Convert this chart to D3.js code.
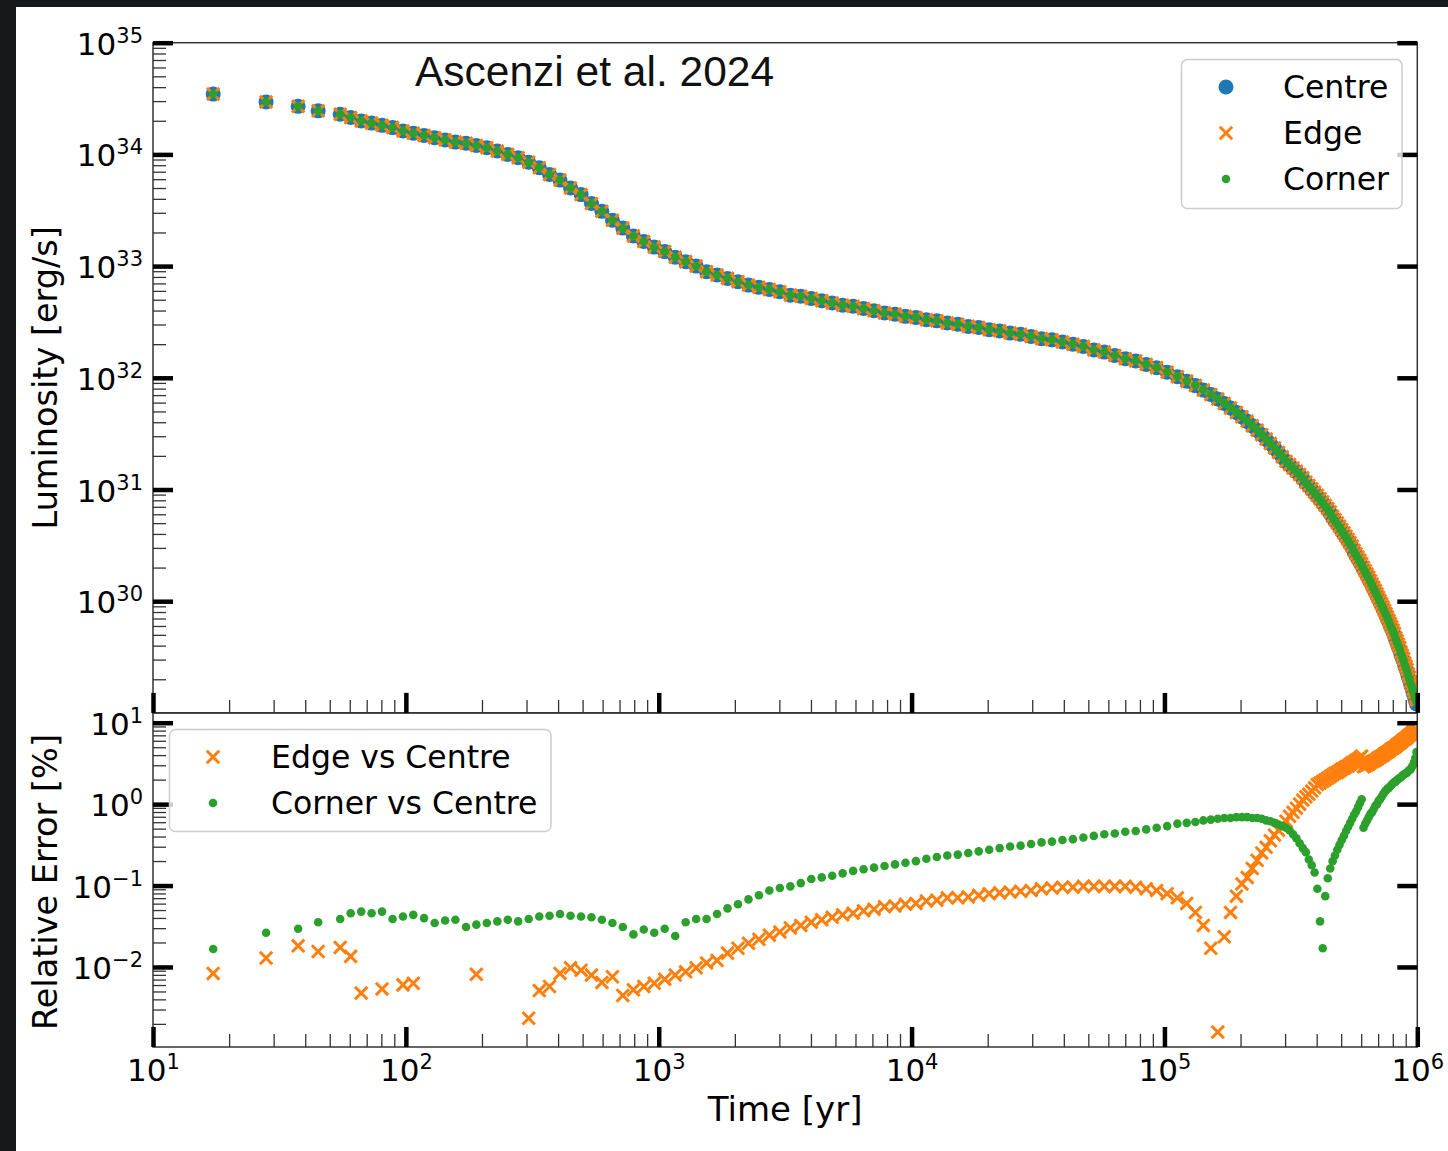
<!DOCTYPE html>
<html>
<head>
<meta charset="utf-8">
<script src="https://cdn.jsdelivr.net/npm/d3@7"></script>
<style>
  body { margin: 0; background: #16181c; }
  svg { display: block; }
</style>
</head>
<body>
<svg id="chart"></svg>
<script>
// values (log10 for luminosity and relative error)
const timeYr = [
  17.3, 28, 37.5, 45,
  55, 60.5, 66.6, 73.2, 80.5, 88.6, 97.4, 107, 118, 130,
  143, 157, 173, 190, 209, 230, 253, 278, 306, 337,
  370, 407, 448, 493, 542, 596, 656, 721, 794, 873,
  960, 1056, 1162, 1278, 1406, 1546, 1701, 1871, 2058, 2264,
  2490, 2739, 3013, 3315, 3646, 4011, 4412, 4853, 5338, 5872,
  6459, 7105, 7816, 8597, 9457, 10403, 11443, 12587, 13846, 15230,
  16753, 18429, 20272, 22299, 24529, 26982, 29680, 32648, 35913, 39504,
  43454, 47800, 52580, 57838, 63622, 69984, 76982, 84681, 93149,
  102500, 112500, 122500, 132500, 142500, 152500, 162500, 172500, 182500, 192500,
  202500, 212500, 222500, 232500, 242500, 252500, 262500, 272500, 282500, 292500,
  302500, 312500, 322500, 332500, 342500, 352500, 362500, 372500, 382500, 392500,
  402500, 412500, 422500, 432500, 442500, 452500, 462500, 472500, 482500, 492500,
  502500, 512500, 522500, 532500, 542500, 552500, 562500, 572500, 582500, 592500,
  602500, 612500, 622500, 632500, 642500, 652500, 662500, 672500, 682500, 692500,
  702500, 712500, 722500, 732500, 742500, 752500, 762500, 772500, 782500, 792500,
  802500, 812500, 822500, 832500, 842500, 852500, 862500, 872500, 882500, 892500,
  902500, 912500, 922500, 932500, 942500, 952500, 962500, 972500, 982500, 992500
];

// log10 of Centre luminosity [erg/s]
const centreLogLum = [
  34.54, 34.47, 34.43, 34.39,
  34.36, 34.33, 34.30, 34.28, 34.26, 34.24, 34.21, 34.19, 34.17, 34.15,
  34.13, 34.11, 34.10, 34.08, 34.06, 34.03, 34.00, 33.97, 33.93, 33.88,
  33.82, 33.77, 33.70, 33.64, 33.56, 33.49, 33.41, 33.34, 33.27, 33.22,
  33.17, 33.13, 33.08, 33.04, 33.00, 32.95, 32.92, 32.89, 32.86, 32.83,
  32.81, 32.79, 32.77, 32.74, 32.73, 32.71, 32.69, 32.67, 32.65, 32.64,
  32.62, 32.60, 32.58, 32.57, 32.55, 32.54, 32.52, 32.51, 32.49, 32.48,
  32.46, 32.45, 32.43, 32.42, 32.40, 32.39, 32.37, 32.35, 32.34, 32.32,
  32.30, 32.28, 32.25, 32.23, 32.20, 32.17, 32.15, 32.12, 32.09,
  32.05, 32.01, 31.97, 31.93, 31.89, 31.85, 31.81, 31.77, 31.73, 31.69,
  31.65, 31.61, 31.57, 31.53, 31.49, 31.45, 31.41, 31.37, 31.33, 31.29,
  31.25, 31.22, 31.19, 31.16, 31.13, 31.10, 31.06, 31.03, 31.00, 30.97,
  30.94, 30.91, 30.88, 30.85, 30.82, 30.79, 30.75, 30.72, 30.69, 30.66,
  30.63, 30.60, 30.57, 30.54, 30.51, 30.48, 30.44, 30.41, 30.38, 30.35,
  30.32, 30.29, 30.26, 30.23, 30.20, 30.17, 30.14, 30.11, 30.08, 30.05,
  30.02, 29.99, 29.96, 29.93, 29.90, 29.87, 29.84, 29.81, 29.78, 29.75,
  29.72, 29.69, 29.65, 29.62, 29.59, 29.56, 29.52, 29.49, 29.46, 29.42,
  29.39, 29.36, 29.32, 29.29, 29.25, 29.22, 29.18, 29.15, 29.11, 29.08
];

// log10 of Edge vs Centre relative error [%] (null = below the axis)
const edgeLogErr = [
  -2.08, -1.89, -1.74, -1.81,
  -1.76, -1.87, -2.32, null, -2.27, null, -2.22, -2.20, null, null,
  null, null, null, -2.09, null, null, null, null, -2.63, -2.29,
  -2.24, -2.08, -2.01, -2.04, -2.10, -2.19, -2.12, -2.35, -2.28, -2.24,
  -2.20, -2.15, -2.10, -2.06, -2.01, -1.95, -1.92, -1.83, -1.77, -1.71,
  -1.66, -1.61, -1.57, -1.52, -1.49, -1.45, -1.42, -1.39, -1.36, -1.34,
  -1.31, -1.29, -1.26, -1.25, -1.23, -1.22, -1.19, -1.18, -1.15, -1.15,
  -1.14, -1.12, -1.10, -1.09, -1.08, -1.07, -1.06, -1.04, -1.03, -1.02,
  -1.02, -1.01, -1.01, -1.01, -1.01, -1.01, -1.02, -1.04, -1.06,
  -1.10, -1.15, -1.22, -1.33, -1.49, -1.77, -2.80, -1.63, -1.33, -1.13,
  -0.98, -0.90, -0.79, -0.69, -0.60, -0.53, -0.45, -0.38, -0.32, -0.27,
  -0.21, -0.15, -0.10, -0.05, 0.00, 0.05, 0.09, 0.12, 0.16, 0.20,
  0.24, 0.26, 0.28, 0.30, 0.32, 0.34, 0.36, 0.38, 0.39, 0.41,
  0.43, 0.44, 0.46, 0.47, 0.49, 0.51, 0.52, 0.54, 0.55, 0.57,
  0.59, 0.46, 0.47, 0.48, 0.49, 0.51, 0.52, 0.53, 0.54, 0.55,
  0.57, 0.58, 0.59, 0.60, 0.62, 0.63, 0.64, 0.65, 0.67, 0.68,
  0.69, 0.70, 0.71, 0.73, 0.74, 0.75, 0.76, 0.78, 0.79, 0.80,
  0.81, 0.82, 0.84, 0.85, 0.86, 0.87, 0.89, 0.90, 0.91, 0.92
];

// log10 of Corner vs Centre relative error [%]
const cornerLogErr = [
  -1.78, -1.58, -1.53, -1.45,
  -1.41, -1.34, -1.32, -1.34, -1.32, -1.41, -1.38, -1.36, -1.40, -1.46,
  -1.43, -1.42, -1.51, -1.48, -1.46, -1.44, -1.42, -1.44, -1.41, -1.38,
  -1.37, -1.35, -1.37, -1.38, -1.39, -1.42, -1.46, -1.51, -1.60, -1.54,
  -1.58, -1.53, -1.62, -1.45, -1.41, -1.41, -1.35, -1.28, -1.23, -1.17,
  -1.12, -1.06, -1.03, -1.01, -0.97, -0.92, -0.90, -0.88, -0.85, -0.82,
  -0.80, -0.78, -0.76, -0.74, -0.72, -0.70, -0.67, -0.65, -0.63, -0.62,
  -0.60, -0.58, -0.56, -0.54, -0.52, -0.51, -0.49, -0.47, -0.46, -0.44,
  -0.43, -0.41, -0.39, -0.37, -0.36, -0.34, -0.33, -0.31, -0.29,
  -0.27, -0.24, -0.23, -0.22, -0.20, -0.19, -0.18, -0.17, -0.17, -0.16,
  -0.16, -0.16, -0.17, -0.17, -0.18, -0.20, -0.21, -0.23, -0.25, -0.27,
  -0.29, -0.32, -0.37, -0.42, -0.48, -0.54, -0.59, -0.68, -0.75, -0.84,
  -1.04, -1.44, -1.77, -1.13, -0.91, -0.79, -0.70, -0.63, -0.56, -0.50,
  -0.44, -0.39, -0.33, -0.28, -0.23, -0.18, -0.13, -0.09, -0.04, 0.01,
  0.06, -0.29, -0.24, -0.20, -0.16, -0.12, -0.10, -0.06, -0.02, 0.00,
  0.04, 0.06, 0.09, 0.12, 0.15, 0.17, 0.19, 0.20, 0.22, 0.24,
  0.26, 0.27, 0.28, 0.30, 0.31, 0.32, 0.33, 0.35, 0.36, 0.37,
  0.38, 0.39, 0.41, 0.42, 0.43, 0.46, 0.48, 0.52, 0.57, 0.64
];

const timeTicks = [1e1, 1e2, 1e3, 1e4, 1e5, 1e6];
const lumTicks = [1e30, 1e31, 1e32, 1e33, 1e34, 1e35];
const errTicks = [1e-2, 1e-1, 1e0, 1e1];
const topLegend = ['Centre', 'Edge', 'Corner'];
const bottomLegend = ['Edge vs Centre', 'Corner vs Centre'];

(function() {
    var width = 1448, height = 1151;
    var left = 153, right = 1417.3;
    var top = 42.7, mid = 712.9, bottom = 1047;
    var blue = '#1f77b4', orange = '#ff7f0e', green = '#2ca02c';
    var font = 'DejaVu Sans';

    var svg = d3.select('#chart').attr('width', width).attr('height', height);

    // dark frame + white page
    svg.append('rect').attr('width', width).attr('height', height).attr('fill', '#16181c');
    svg.append('rect').attr('x', 16).attr('y', 7)
        .attr('width', width - 16).attr('height', height - 7).attr('fill', '#fff');

    var x = d3.scaleLog().domain([10, 1e6]).range([left, right]);
    var yTop = d3.scaleLog().domain([1e29, 1e35]).range([mid, top]);
    var yBot = d3.scaleLog().domain([1.04e-3, 13.2]).range([bottom, mid]);

    var rows = timeYr.map(function(t, i) {
        var c = Math.pow(10, centreLogLum[i]);
        var e = edgeLogErr[i] === null ? null : Math.pow(10, edgeLogErr[i]);
        var k = Math.pow(10, cornerLogErr[i]);
        return {t: t, centre: c, edgeErr: e, cornerErr: k,
                edge: c * (1 + (e || 0) / 100), corner: c * (1 + k / 100)};
    });

    var defs = svg.append('defs');
    defs.append('clipPath').attr('id', 'clipTop').append('rect')
        .attr('x', left).attr('y', top).attr('width', right - left).attr('height', mid - top);
    defs.append('clipPath').attr('id', 'clipBot').append('rect')
        .attr('x', left).attr('y', mid).attr('width', right - left).attr('height', bottom - mid);

    var cross = 'M-6.2,-6.2L6.2,6.2M-6.2,6.2L6.2,-6.2';

    // top panel points
    var gTop = svg.append('g').attr('clip-path', 'url(#clipTop)');
    gTop.selectAll('circle.centre').data(rows).join('circle')
        .attr('class', 'centre')
        .attr('cx', d => x(d.t)).attr('cy', d => yTop(d.centre))
        .attr('r', 7.5).attr('fill', blue);
    gTop.selectAll('path.edge').data(rows).join('path')
        .attr('class', 'edge').attr('d', cross)
        .attr('transform', d => `translate(${x(d.t)},${yTop(d.edge)})`)
        .attr('stroke', orange).attr('stroke-width', 3).attr('fill', 'none');
    gTop.selectAll('circle.corner').data(rows).join('circle')
        .attr('class', 'corner')
        .attr('cx', d => x(d.t)).attr('cy', d => yTop(d.corner))
        .attr('r', 4.3).attr('fill', green);

    // bottom panel points
    var gBot = svg.append('g').attr('clip-path', 'url(#clipBot)');
    gBot.selectAll('path.edge').data(rows.filter(d => d.edgeErr !== null)).join('path')
        .attr('class', 'edge').attr('d', cross)
        .attr('transform', d => `translate(${x(d.t)},${yBot(d.edgeErr)})`)
        .attr('stroke', orange).attr('stroke-width', 3).attr('fill', 'none');
    gBot.selectAll('circle.corner').data(rows).join('circle')
        .attr('class', 'corner')
        .attr('cx', d => x(d.t)).attr('cy', d => yBot(d.cornerErr))
        .attr('r', 4.3).attr('fill', green);

    // spines
    [[top, mid], [mid, bottom]].forEach(function(p) {
        svg.append('rect').attr('x', left).attr('y', p[0])
            .attr('width', right - left).attr('height', p[1] - p[0])
            .attr('fill', 'none').attr('stroke', '#333').attr('stroke-width', 1.5);
    });

    function isMajor(v) {
        var l = Math.log10(v);
        return Math.abs(l - Math.round(l)) < 1e-6;
    }
    function minorsOf(scale) { return scale.ticks().filter(v => !isMajor(v)); }

    function styleMajor(g) {
        g.select('.domain').remove();
        g.selectAll('.tick line').attr('stroke', '#000').attr('stroke-width', 4.5);
    }
    function styleMinor(g) {
        g.select('.domain').remove();
        g.selectAll('.tick line').attr('stroke', '#333').attr('stroke-width', 1.3);
    }

    // 10^n labels with superscript exponent
    function powLabels(g, baseY, supDy) {
        g.selectAll('.tick text').each(function(d) {
            var e = Math.round(Math.log10(d));
            var t = d3.select(this).text(null)
                .attr('dy', null).attr('y', baseY)
                .attr('font-family', font).attr('font-size', 31).attr('fill', '#000');
            t.append('tspan').text('10');
            t.append('tspan').attr('dy', supDy).attr('font-size', 21)
                .text(e < 0 ? '\u2212' + (-e) : String(e));
        });
    }

    function yAxes(scale, majors) {
        svg.append('g').attr('transform', `translate(${left},0)`)
            .call(d3.axisLeft(scale).tickValues(minorsOf(scale)).tickSize(-13).tickFormat(''))
            .call(styleMinor);
        svg.append('g').attr('transform', `translate(${left},0)`)
            .call(d3.axisLeft(scale).tickValues(majors).tickSize(-20).tickPadding(10).tickFormat(''))
            .call(styleMajor)
            .call(g => powLabels(g, 11.5, -12));
        svg.append('g').attr('transform', `translate(${right},0)`)
            .call(d3.axisRight(scale).tickValues(majors).tickSize(-20).tickFormat(''))
            .call(styleMajor);
    }

    function xAxes(yPos, withLabels) {
        svg.append('g').attr('transform', `translate(0,${yPos})`)
            .call(d3.axisBottom(x).tickValues(minorsOf(x)).tickSize(-13).tickFormat(''))
            .call(styleMinor);
        var g = svg.append('g').attr('transform', `translate(0,${yPos})`)
            .call(d3.axisBottom(x).tickValues(timeTicks).tickSize(-20).tickPadding(10).tickFormat(''))
            .call(styleMajor);
        if (withLabels) g.call(g => powLabels(g, 34, -12));
        else g.selectAll('.tick text').remove();
    }

    yAxes(yTop, lumTicks);
    yAxes(yBot, errTicks);
    xAxes(mid, false);
    xAxes(bottom, true);

    // axis titles
    svg.append('text').attr('transform', 'translate(57,377.8) rotate(-90)')
        .attr('text-anchor', 'middle').attr('font-family', font).attr('font-size', 33.5)
        .text('Luminosity [erg/s]');
    svg.append('text').attr('transform', 'translate(57,882) rotate(-90)')
        .attr('text-anchor', 'middle').attr('font-family', font).attr('font-size', 33.5)
        .text('Relative Error [%]');
    svg.append('text').attr('x', (left + right) / 2).attr('y', 1121)
        .attr('text-anchor', 'middle').attr('font-family', font).attr('font-size', 34)
        .text('Time [yr]');

    // marker glyphs for legends
    function drawMarker(g, kind, cx, cy) {
        if (kind === 'centre') {
            g.append('circle').attr('cx', cx).attr('cy', cy).attr('r', 7.5).attr('fill', blue);
        } else if (kind === 'edge') {
            g.append('path').attr('d', cross).attr('transform', `translate(${cx},${cy})`)
                .attr('stroke', orange).attr('stroke-width', 3).attr('fill', 'none');
        } else {
            g.append('circle').attr('cx', cx).attr('cy', cy).attr('r', 4.3).attr('fill', green);
        }
    }

    function legend(box, labels, kinds, mx, tx, rowY) {
        var g = svg.append('g');
        g.append('rect').attr('x', box[0]).attr('y', box[1])
            .attr('width', box[2]).attr('height', box[3]).attr('rx', 6)
            .attr('fill', '#fff').attr('fill-opacity', 0.8)
            .attr('stroke', '#cccccc').attr('stroke-width', 1.5);
        labels.forEach(function(lab, i) {
            drawMarker(g, kinds[i], mx, rowY[i]);
            g.append('text').attr('x', tx).attr('y', rowY[i] + 10.5)
                .attr('font-family', font).attr('font-size', 31.5).text(lab);
        });
    }

    legend([1181.5, 59.5, 220.5, 149], topLegend, ['centre', 'edge', 'corner'],
        1226, 1283, [87, 133, 179]);
    legend([169.5, 729.5, 381.5, 102], bottomLegend, ['edge', 'corner'],
        213, 271, [757, 803]);

    // annotation
    svg.append('text').attr('x', 415).attr('y', 86)
        .attr('font-family', 'Liberation Sans, Arial, sans-serif').attr('font-size', 42.5)
        .attr('fill', '#111').text('Ascenzi et al. 2024');
})();
</script>
</body>
</html>
